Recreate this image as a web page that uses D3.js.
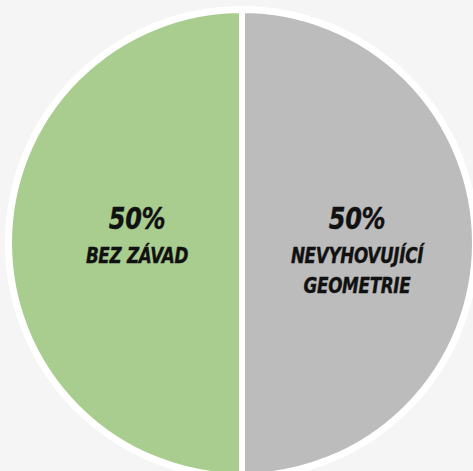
<!DOCTYPE html>
<html>
<head>
<meta charset="utf-8">
<script src="https://cdn.jsdelivr.net/npm/d3@7"></script>
<style>
  html, body { margin: 0; padding: 0; background: #f5f5f5; }
  text { font-family: "DejaVu Sans", sans-serif; font-weight: bold; font-style: italic; fill: #111; letter-spacing: -0.4px; stroke: #111; stroke-width: 0.4px; }
</style>
</head>
<body>
<div id="chart"></div>
<script>
const categories = ["NEVYHOVUJÍCÍ GEOMETRIE", "BEZ ZÁVAD"];
const shares = [50, 50];
const labelLines = [["NEVYHOVUJÍCÍ", "GEOMETRIE"], ["BEZ ZÁVAD"]];
const colors = ["#bcbcbc", "#a9cd8e"];

const width = 473, height = 471;
const cx = 242, cy = 243, radius = 230;

const svg = d3.select("#chart")
    .append("svg")
    .attr("width", width)
    .attr("height", height);

const g = svg.append("g")
    .attr("transform", `translate(${cx},${cy})`);

// white rim behind the pie
g.append("circle")
    .attr("r", radius + 7)
    .attr("fill", "#ffffff");

const data = categories.map((c, i) => ({ name: c, value: shares[i], lines: labelLines[i], color: colors[i] }));

const pie = d3.pie()
    .sort(null)
    .value(d => d.value);

// stroke is centred on the edge, so push the path out by half of it
const arc = d3.arc()
    .innerRadius(0)
    .outerRadius(radius + 3);

const labelArc = d3.arc()
    .innerRadius(110)
    .outerRadius(110);

const arcs = pie(data);

g.selectAll(".slice")
    .data(arcs)
    .join("path")
    .attr("class", "slice")
    .attr("d", arc)
    .attr("fill", d => d.data.color)
    .attr("stroke", "#ffffff")
    .attr("stroke-width", 6);

// condensed look: squeeze the text horizontally
const labels = g.selectAll(".label")
    .data(arcs)
    .join("text")
    .attr("class", "label")
    .attr("text-anchor", "middle")
    .attr("transform", d => {
        const [x, y] = labelArc.centroid(d);
        return `translate(${x + 5},${y - 14}) scale(0.8,1)`;
    });

labels.append("tspan")
    .attr("x", 0)
    .attr("y", 0)
    .style("font-size", "30px")
    .text(d => d.data.value + "%");

labels.each(function(d) {
    const t = d3.select(this);
    d.data.lines.forEach((line, i) => {
        t.append("tspan")
            .attr("x", 0)
            .attr("y", 34 + i * 30)
            .style("font-size", "21px")
            .text(line);
    });
});
</script>
</body>
</html>
